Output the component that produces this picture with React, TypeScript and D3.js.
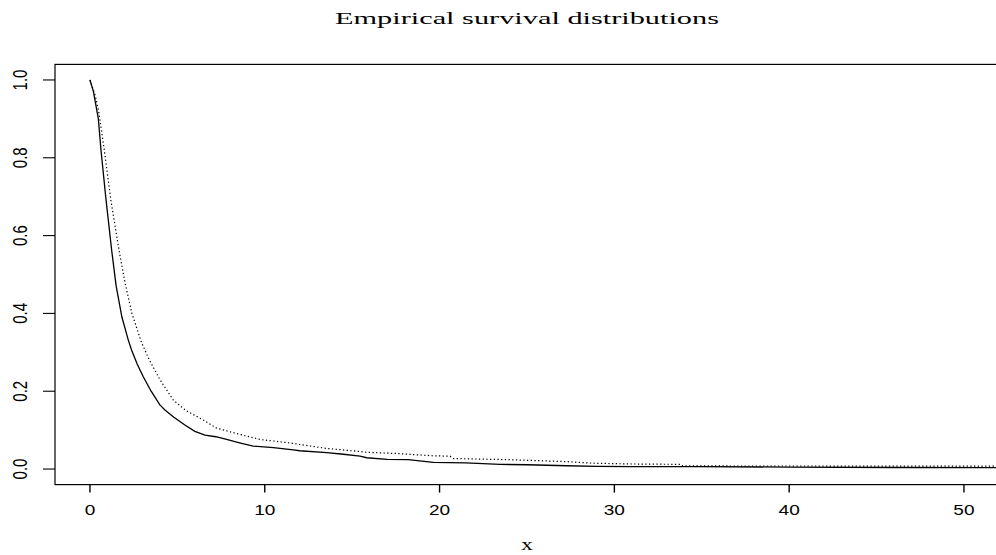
import React from "react";
import * as d3 from "d3";

const title = "Empirical survival distributions";
const xLabel = "x";
const xTicks = [0, 10, 20, 30, 40, 50];
const yTicks = [0, 0.2, 0.4, 0.6, 0.8, 1.0];

// solid curve (sample 1)
const solidX = [0, 0.2, 0.48, 0.63, 0.9, 1.24, 1.5, 1.83, 2.19, 2.38, 2.7, 3.05, 3.5, 4.0, 4.29, 4.8, 5.43, 6.0, 6.58, 7.2, 7.82, 8.5, 9.34, 10.5, 11.63, 12.0, 13.54, 14.5, 15.45, 15.83, 17.0, 18.2, 19.64, 21.5, 23.46, 25.0, 27.27, 29.0, 31.08, 34.9, 40.0, 46.0, 52.0];
const solidY = [1.0, 0.97, 0.9, 0.82, 0.7, 0.563, 0.47, 0.39, 0.332, 0.306, 0.27, 0.237, 0.2, 0.165, 0.152, 0.133, 0.113, 0.097, 0.087, 0.083, 0.076, 0.068, 0.059, 0.055, 0.049, 0.047, 0.042, 0.038, 0.033, 0.029, 0.025, 0.024, 0.017, 0.016, 0.012, 0.011, 0.0085, 0.007, 0.006, 0.006, 0.005, 0.004, 0.0035];

// dotted curve (sample 2)
const dottedX = [0, 0.3, 0.5, 0.82, 1.2, 1.66, 2.0, 2.4, 2.95, 3.4, 4.0, 4.77, 5.5, 6.48, 7.25, 8.5, 9.73, 11.63, 12.0, 13.54, 15.45, 15.83, 17.5, 19.64, 20.6, 20.8, 24.0, 27.27, 28.8, 31.0, 33.8, 33.9, 38.0, 45.0, 52.0];
const dottedY = [1.0, 0.96, 0.92, 0.82, 0.69, 0.563, 0.48, 0.4, 0.325, 0.28, 0.23, 0.177, 0.15, 0.126, 0.105, 0.09, 0.076, 0.066, 0.063, 0.053, 0.045, 0.043, 0.04, 0.034, 0.033, 0.027, 0.024, 0.019, 0.015, 0.013, 0.012, 0.008, 0.0078, 0.0077, 0.0075];

const W = 996;
const H = 555;
const SX = 1.36; // horizontal stretch of the original raster

export default function App() {
  const x = d3.scaleLinear().domain([-2, 52]).range([55, 55 + 54 * 17.48]);
  const y = d3.scaleLinear().domain([-0.04, 1.04]).range([484.6, 64.4]);

  const line = d3
    .line<[number, number]>()
    .x((d) => x(d[0]))
    .y((d) => y(d[1]))
    .curve(d3.curveLinear);

  const solid = solidX.map((v, i) => [v, solidY[i]] as [number, number]);
  const dotted = dottedX.map((v, i) => [v, dottedY[i]] as [number, number]);

  const [x0, x1] = x.range();
  const [y0, y1] = y.range();

  const sans = "'Liberation Sans', Arial, Helvetica, sans-serif";
  const serif = "'Liberation Serif', 'Times New Roman', serif";

  return (
    <svg
      width={W}
      height={H}
      style={{ position: "absolute", left: 0, top: 0, background: "#fff" }}
    >
      <text
        x={527}
        y={24}
        textAnchor="middle"
        fontFamily={serif}
        fontSize={17}
        textLength={384}
        lengthAdjust="spacingAndGlyphs"
        fill="#000"
      >
        {title}
      </text>

      <rect
        x={x0}
        y={y1}
        width={x1 - x0}
        height={y0 - y1}
        fill="none"
        stroke="#000"
        strokeWidth={1.2}
      />

      {yTicks.map((t) => (
        <g key={"y" + t}>
          <line x1={x0} x2={x0 - 12} y1={y(t)} y2={y(t)} stroke="#000" strokeWidth={1.1} />
          <text
            transform={`translate(27,${y(t)}) scale(${SX},1) rotate(-90)`}
            textAnchor="middle"
            fontFamily={sans}
            fontSize={15}
            fill="#000"
          >
            {t.toFixed(1)}
          </text>
        </g>
      ))}

      {xTicks.map((t) => (
        <g key={"x" + t}>
          <line x1={x(t)} x2={x(t)} y1={y0} y2={y0 + 8} stroke="#000" strokeWidth={1.4} />
          <text
            transform={`translate(${x(t)},515) scale(${SX},1)`}
            textAnchor="middle"
            fontFamily={sans}
            fontSize={14}
            fill="#000"
          >
            {String(t)}
          </text>
        </g>
      ))}

      <text
        transform={`translate(527,550) scale(${SX},1)`}
        textAnchor="middle"
        fontFamily={serif}
        fontSize={17}
        fill="#000"
      >
        {xLabel}
      </text>

      <path d={line(solid) || ""} fill="none" stroke="#000" strokeWidth={1.3} />
      <path
        d={line(dotted) || ""}
        fill="none"
        stroke="#000"
        strokeWidth={1.2}
        strokeDasharray="1.3 2.4"
      />
    </svg>
  );
}
